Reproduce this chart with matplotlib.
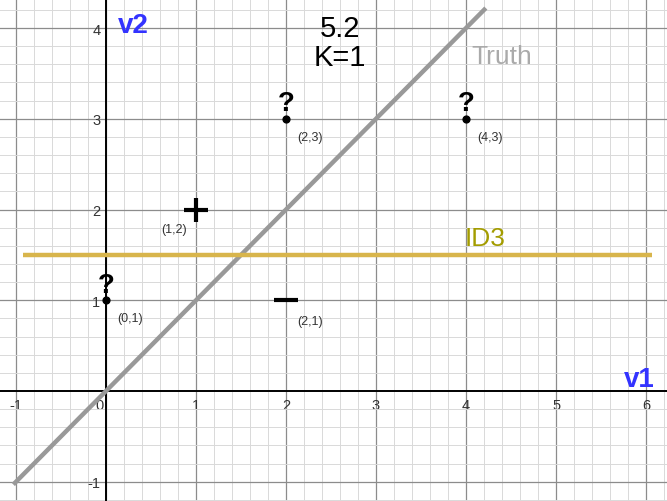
import numpy as np
import matplotlib.pyplot as plt
from matplotlib.ticker import MultipleLocator

plt.rcParams['font.family'] = ['Liberation Sans', 'DejaVu Sans']

# data
q_x = [0, 2, 4]          # unlabeled points ("?")
q_y = [1, 3, 3]
q_lbl = ["(0,1)", "(2,3)", "(4,3)"]
pos_x, pos_y, pos_lbl = [1], [2], ["(1,2)"]
neg_x, neg_y, neg_lbl = [2], [1], ["(2,1)"]
truth_x = [-1.03, 4.22]   # Truth: v2 = v1
id3_y = 1.5               # ID3 split v2 = 1.5
id3_x = [-0.92, 6.07]
xticks = [-1, 0, 1, 2, 3, 4, 5, 6]
xtick_lbl = ["-1", "0   ", "1", "2", "3", "4", "5", "6"]
yticks = [-1, 1, 2, 3, 4]

fig = plt.figure(figsize=(6.67, 5.02), dpi=100)
ax = fig.add_axes([0, 0, 1, 1])
ax.set_xlim(-1.178, 6.233)
ax.set_ylim(-1.212, 4.32)

ax.xaxis.set_minor_locator(MultipleLocator(0.2))
ax.yaxis.set_minor_locator(MultipleLocator(0.2))
ax.set_xticks(xticks)
ax.set_yticks(yticks)
ax.set_xticklabels(xtick_lbl)
ax.set_yticklabels([str(t) for t in yticks])
ax.grid(True, which='major', color='#8c8c8c', lw=0.9)
ax.grid(True, which='minor', color='#d9d9d9', lw=0.7)
ax.set_axisbelow(True)

for s in ['top', 'right']:
    ax.spines[s].set_visible(False)
ax.spines['left'].set_position('zero')
ax.spines['bottom'].set_position('zero')
ax.spines['left'].set_linewidth(1.4)
ax.spines['bottom'].set_linewidth(1.4)
ax.tick_params(which='both', length=0, labelsize=10.5, labelcolor='#333333')
ax.tick_params(axis='x', pad=5)
ax.tick_params(axis='y', pad=4)

# lines
ax.plot(truth_x, truth_x, color='#999999', lw=3.2, solid_capstyle='butt', zorder=3)
ax.plot(id3_x, [id3_y, id3_y], color='#d8b54c', lw=3.2, solid_capstyle='butt', zorder=3)

ax.text(4.06, 3.69, "Truth", color='#aaaaaa', fontsize=19, va='center', ha='left')
ax.text(3.98, 1.69, "ID3", color='#a39c00', fontsize=19, va='center', ha='left')
ax.text(2.6, 4.0, "5.2", fontsize=21, ha='center', va='center')
ax.text(2.6, 3.68, "K=1", fontsize=21, ha='center', va='center')
ax.text(0.13, 4.03, "v2", color='#3333ff', fontsize=20, fontweight='bold', va='center')
ax.text(6.1, 0.13, "v1", color='#3333ff', fontsize=20, fontweight='bold', va='center', ha='right')

# unlabeled points
ax.scatter(q_x, q_y, s=24, color='black', zorder=5)
for x, y, l in zip(q_x, q_y, q_lbl):
    ax.text(x, y + 0.03, "?", fontsize=20, fontweight='bold', ha='center', va='bottom', zorder=5)
    ax.text(x + 0.13, y - 0.2, l, fontsize=9, color='#333333', ha='left', va='center')

# labelled points
ax.scatter(pos_x, pos_y, marker='+', s=280, linewidths=3, color='black', zorder=5)
for x, y, l in zip(pos_x, pos_y, pos_lbl):
    ax.text(x - 0.1, y - 0.22, l, fontsize=9, color='#333333', ha='right', va='center')
ax.scatter(neg_x, neg_y, marker='_', s=280, linewidths=3, color='black', zorder=5)
for x, y, l in zip(neg_x, neg_y, neg_lbl):
    ax.text(x + 0.13, y - 0.23, l, fontsize=9, color='#333333', ha='left', va='center')

fig.savefig("out.png", dpi=100)
